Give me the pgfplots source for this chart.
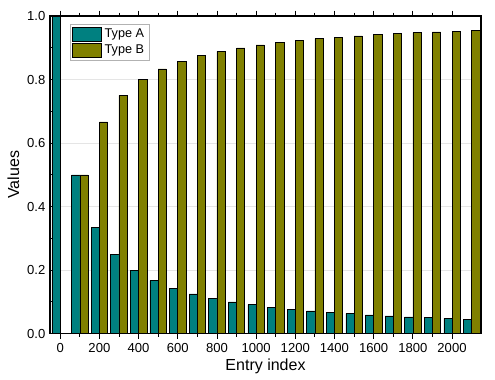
\documentclass[border=0pt]{standalone}
\usepackage{fontspec}
\setmainfont{Liberation Sans}
\usepackage{pgfplots}
\pgfplotsset{compat=1.18}
\usetikzlibrary{calc}
\definecolor{typeA}{HTML}{008080}
\definecolor{typeB}{HTML}{808000}

\begin{document}
\begin{tikzpicture}
\begin{axis}[
  name=ax,
  scale only axis,
  width=323pt,height=238pt,
  xmin=-52,xmax=2148,
  ymin=0,ymax=1,
  xtick={0,200,...,2000},
  minor x tick num=1,
  ytick={0,0.2,...,1.0},
  minor y tick num=1,
  xticklabel style={/pgf/number format/.cd,1000 sep={}},
  yticklabel style={/pgf/number format/.cd,fixed,fixed zerofill,precision=1},
  /pgf/number format/assume math mode=true,
  tick align=inside,
  tick style={black,line width=0.6pt},
  major tick length=4pt,minor tick length=2.5pt,
  axis line style={black,line width=0.9pt},
  tick label style={font=\fontsize{9.8}{11}\selectfont},
  label style={font=\fontsize{12}{14}\selectfont},
  xlabel={Entry index},ylabel={Values},
  xlabel style={yshift=2pt},
  ylabel style={yshift=-1pt},
  ymajorgrids=true,
  major grid style={black!10,line width=0.4pt},
  ybar,bar width=42,
  legend style={at={(0.046,0.975)},anchor=north west,
    draw=black!30,fill=white,font=\fontsize{9.5}{11}\selectfont,
    row sep=0pt,inner sep=1.5pt},
  legend cell align=left,
  legend image code/.code={\draw[#1,draw=black,line width=0.4pt] (0pt,-5pt) rectangle (22pt,5pt);},
]
\addplot[fill=typeA,draw=black,line width=0.4pt,bar shift=-21] coordinates {
  (0,1.0) (100,0.5) (200,0.3333) (300,0.25) (400,0.2) (500,0.1667)
  (600,0.1429) (700,0.125) (800,0.1111) (900,0.1) (1000,0.0909)
  (1100,0.0833) (1200,0.0769) (1300,0.0714) (1400,0.0667) (1500,0.0625)
  (1600,0.0588) (1700,0.0556) (1800,0.0526) (1900,0.05) (2000,0.0476)
  (2100,0.0455)};
\addplot[fill=typeB,draw=black,line width=0.4pt,bar shift=21] coordinates {
  (0,0.0) (100,0.5) (200,0.6667) (300,0.75) (400,0.8) (500,0.8333)
  (600,0.8571) (700,0.875) (800,0.8889) (900,0.9) (1000,0.9091)
  (1100,0.9167) (1200,0.9231) (1300,0.9286) (1400,0.9333) (1500,0.9375)
  (1600,0.9412) (1700,0.9444) (1800,0.9474) (1900,0.95) (2000,0.9524)
  (2100,0.9545)};
\legend{Type A,Type B}
\end{axis}
\pgfresetboundingbox
\path ($(ax.south west)+(-37.5pt,-34.5pt)$) rectangle ($(ax.north east)+(10.5pt,12pt)$);
\end{tikzpicture}
\end{document}
